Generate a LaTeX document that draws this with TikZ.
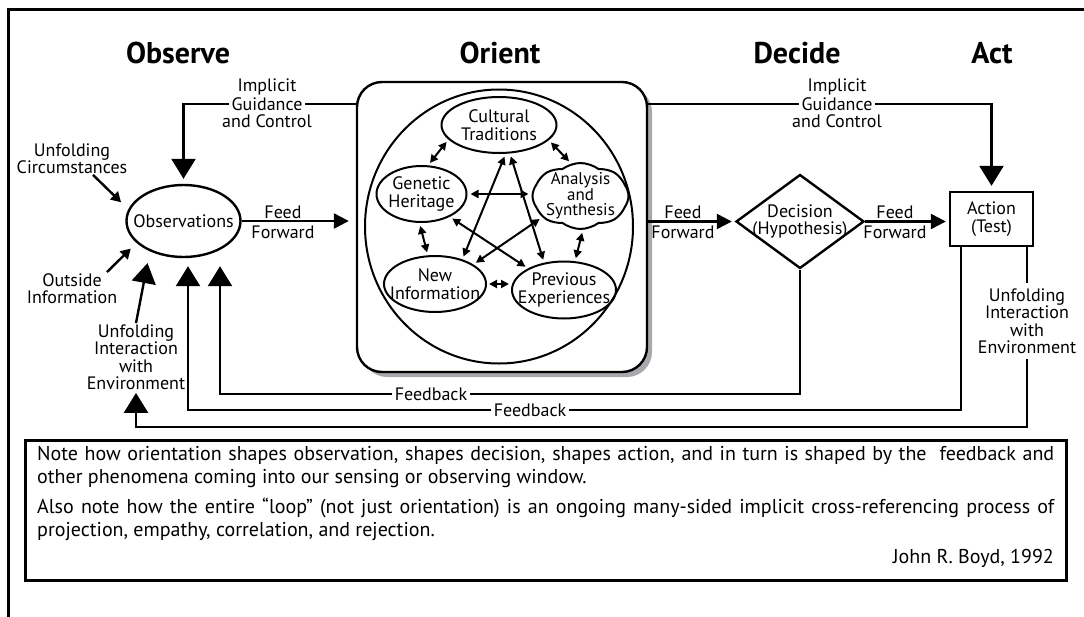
\documentclass[tikz,border=0pt]{standalone}
\usepackage{fontspec}
\setmainfont{PT Sans}
\usetikzlibrary{arrows.meta,shapes.geometric,shapes.symbols,calc}
\definecolor{shadowgray}{HTML}{A7A9AC}
\begin{document}
\begin{tikzpicture}[x=1pt,y=-1pt,
  lbl/.style={font=\fontsize{18}{17.5}\selectfont, align=center, inner sep=1pt},
  ttl/.style={font=\fontsize{30}{32}\selectfont\bfseries},
  notef/.style={font=\fontsize{20}{22}\selectfont, inner sep=0pt},
  ell/.style={draw, ellipse, line width=2pt, inner sep=0pt},
  conn/.style={line width=2.4pt},
  bigarrow/.style={conn, -{Triangle[length=20pt,width=24pt]}},
  midarrow/.style={conn, -{Triangle[length=15pt,width=15pt]}},
  smallarrow/.style={conn, -{Triangle[length=10pt,width=11pt]}},
  dbl/.style={line width=2pt, {Triangle[length=8pt,width=8pt]}-{Triangle[length=8pt,width=8pt]}, shorten <=3pt, shorten >=3pt}
]
\useasboundingbox (0,0) rectangle (1084,616);
\clip (0,0) rectangle (1084,616);
% outer frame
\draw[line width=3pt] (8.5,640) -- (8.5,9.5) -- (1100,9.5);

% titles
\node[ttl] (tobs) at (178,53) {Observe};
\node[ttl] (tori) at (500,53) {Orient};
\node[ttl] (tdec) at (797,53) {Decide};
\node[ttl] (tact) at (992,53) {Act};

% orient box
\fill[shadowgray, rounded corners=25pt] (362,87) rectangle (652,377);
\node[draw, line width=2.4pt, rounded corners=25pt, fill=white, minimum width=290pt, minimum height=290pt, inner sep=0pt] (ob) at (502,227) {};
\node[ell, minimum width=268pt, minimum height=274pt] (oc) at (499,226.5) {};

% inner nodes
\node[ell, minimum width=115pt, minimum height=56pt, label={[lbl]center:{Cultural\\Traditions}}] (ct) at (499,125) {};
\node[ell, minimum width=90pt, minimum height=56pt, label={[lbl]center:{Genetic\\Heritage}}] (gh) at (421.5,194) {};
\node[draw, cloud, cloud puffs=8, cloud puff arc=75, shape border rotate=22.5, cloud ignores aspect, line width=2pt, inner sep=0pt, minimum width=96pt, minimum height=66pt, label={[lbl, font=\fontsize{17}{15.5}\selectfont]center:{Analysis\\and\\Synthesis}}] (as) at (580.5,196) {};
\node[ell, minimum width=102pt, minimum height=56pt, label={[lbl]center:{New\\Information}}] (ni) at (435,284) {};
\node[ell, minimum width=104pt, minimum height=57pt, label={[lbl]center:{Previous\\Experiences}}] (pe) at (564,290) {};

% inner arrows
\draw[dbl] (ct.196) -- (gh.77);
\draw[dbl] (ct.343) -- (as.106);
\draw[dbl] (gh.east) -- (gh.east -| as.west);
\draw[dbl] (gh.266) -- (ni.104);
\draw[dbl] (as.274) -- (pe.69);
\draw[dbl, shorten <=2pt, shorten >=2pt] (ni.east) -- (ni.east -| pe.west);
\draw[dbl] (ct.283) -- (ni.42);
\draw[dbl] (ct.291) -- (pe.126);
\draw[dbl] (gh.321) -- (pe.149);
\draw[dbl] (as.209) -- (ni.27);

% observations
\node[ell, line width=2.4pt, minimum width=114pt, minimum height=72pt, label={[lbl]center:Observations}] (obs) at (183.5,221) {};

% decision and action
\node[draw, diamond, line width=2.4pt, minimum width=128pt, minimum height=94pt, inner sep=0pt, shape aspect=1.36, label={[lbl]center:{Decision\\(Hypothesis)}}] (dec) at (800,221.5) {};
\node[draw, line width=2.4pt, minimum width=83pt, minimum height=54pt, inner sep=0pt, label={[lbl]center:{Action\\(Test)}}] (act) at (991.5,219) {};

% feed forward
\draw[midarrow, shorten >=7pt] (obs.east) -- (obs.east -| ob.west);
\node[lbl] (ff1a) at (283,212) {Feed};
\node[lbl] (ff1b) at (283,232) {Forward};
\draw[midarrow, shorten >=3pt] (ob.east |- dec.west) -- (dec.west);
\node[lbl] (ff2a) at (683,212) {Feed};
\node[lbl] (ff2b) at (683,232) {Forward};
\draw[midarrow, shorten >=3pt] (dec.east) -- (dec.east -| act.west);
\node[lbl] (ff3a) at (895,212) {Feed};
\node[lbl] (ff3b) at (895,232) {Forward};

% implicit guidance and control
\coordinate (igl) at (186,104);
\coordinate (igr) at (992,104);
\draw[bigarrow, shorten >=5pt] (ob.west |- igl) -| (obs.north);
\draw[bigarrow, shorten >=5pt] (ob.east |- igr) -| (act.north);
\node[lbl, fill=white, inner sep=3pt] (igl2) at (267,104) {Guidance};
\node[lbl] (igl1) at (267,87) {Implicit};
\node[lbl] (igl3) at (267,121) {and Control};
\node[lbl, fill=white, inner sep=3pt] (igr2) at (837,104) {Guidance};
\node[lbl] (igr1) at (837,87) {Implicit};
\node[lbl] (igr3) at (837,121) {and Control};

% left side inputs
\node[lbl] (uc) at (72,158.5) {Unfolding\\Circumstances};
\draw[smallarrow, shorten >=10pt] ([xshift=21pt]uc.south) -- (obs.168);
\node[lbl] (oi) at (72,288.5) {Outside\\Information};
\draw[smallarrow, shorten >=8pt] ([xshift=35pt]oi.north) -- (obs.205);
\node[lbl] (uil) at (136,357) {Unfolding\\Interaction\\with\\Environment};
\draw[bigarrow, shorten >=12pt] (uil.north) -- (obs.222);

% feedback loops
\coordinate (fb1) at (220,394);
\coordinate (fb2) at (188,410);
\coordinate (fb3) at (136,427);
\draw[bigarrow, shorten >=8pt] (dec.south) |- (fb1) -- (fb1 |- obs.south);
\draw[bigarrow, shorten >=8pt] ([xshift=12pt]act.south west) |- (fb2) -- (fb2 |- obs.south);
\node[lbl, fill=white, inner sep=3pt] (fbl1) at (431,394) {Feedback};
\node[lbl, fill=white, inner sep=3pt] (fbl2) at (530,410) {Feedback};

\node[lbl, inner sep=5pt] (uir) at (1027,321) {Unfolding\\Interaction\\with\\Environment};
\draw[conn] (act.south -| uir.north) -- (uir.north);
\draw[bigarrow, shorten >=2pt] (uir.south) |- (fb3) -- (fb3 |- uil.south);

% note box
\node[draw, line width=3pt, minimum width=1041pt, minimum height=140pt, inner sep=0pt] (note) at (545.5,510) {};
\node[notef, anchor=base west] (nl1) at (37,460) {\makebox[1017pt][s]{Note how orientation shapes observation, shapes decision, shapes action, and in turn is shaped by the~ feedback and}};
\node[notef, anchor=base west] (nl2) at (37,483) {other phenomena coming into our sensing or observing window.};
\node[notef, anchor=base west] (nl3) at (37,513) {\makebox[1017pt][s]{Also note how the entire “loop” (not just orientation) is an ongoing many-sided implicit cross-referencing process of}};
\node[notef, anchor=base west] (nl4) at (37,536) {projection, empathy, correlation, and rejection.};
\node[notef, anchor=base east] (nl5) at (1054,563) {John R. Boyd, 1992};
\end{tikzpicture}
\end{document}
